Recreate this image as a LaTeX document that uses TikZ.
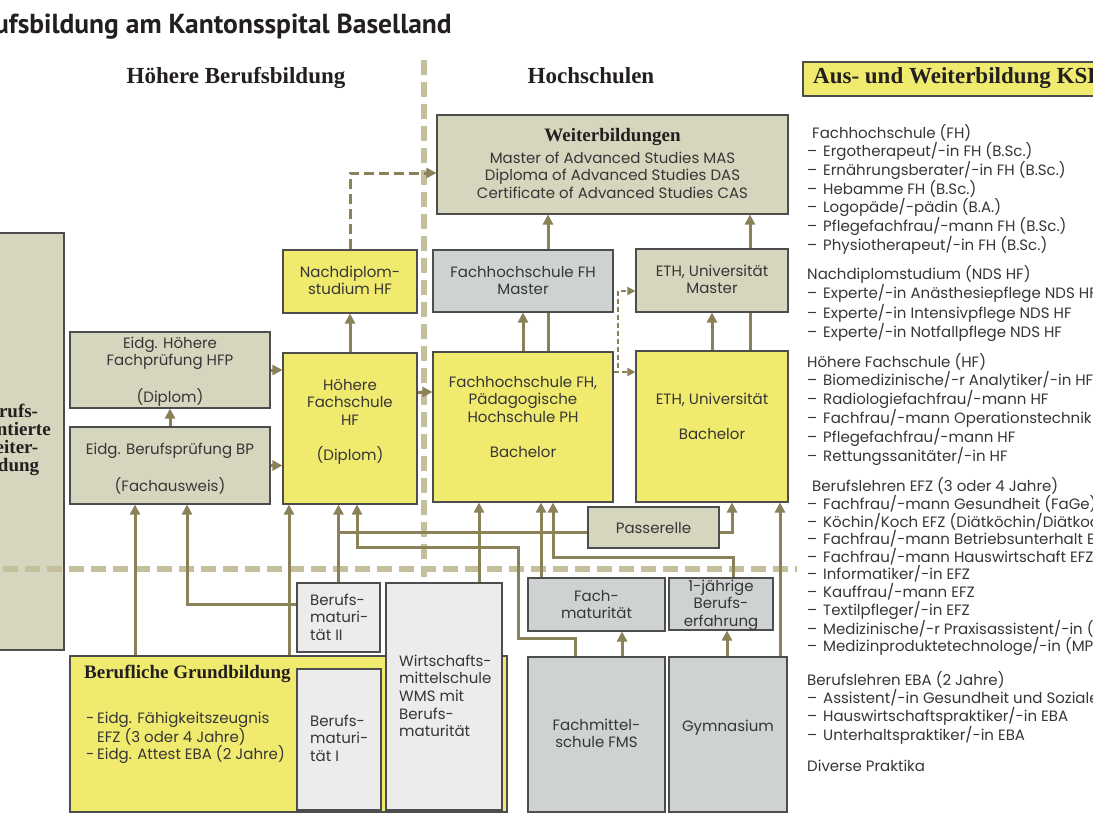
\documentclass[tikz,border=0pt]{standalone}
\usepackage{fontspec}
\setmainfont{Poppins}
\newfontfamily\serifhd{Liberation Serif}
\newfontfamily\titlefont{PT Sans}
\usetikzlibrary{arrows.meta,fit}
\definecolor{khaki}{HTML}{D6D5BD}
\definecolor{yel}{HTML}{F0EB6E}
\definecolor{grayb}{HTML}{CFD2D2}
\definecolor{lgray}{HTML}{EBECEB}
\definecolor{olive}{HTML}{8B8159}
\definecolor{sepc}{HTML}{C5C09C}
\definecolor{edgec}{HTML}{4D4D4D}
\definecolor{txtc}{HTML}{363636}
\definecolor{hdc}{HTML}{231F20}
\pgfdeclarelayer{back}\pgfdeclarelayer{conn}
\pgfsetlayers{back,conn,main}
\tikzset{
 box/.style={draw=edgec, line width=1.1pt, inner sep=0pt},
 bt/.style={font=\fontsize{15}{17.6}\selectfont, text=txtc, inner sep=0pt, align=center, anchor=north, execute at begin node=\strut},
 btl/.style={bt, align=left, anchor=north west},
 bt1/.style={font=\fontsize{15}{17.6}\selectfont, text=txtc, inner sep=0pt, anchor=base},
 hd/.style={font=\serifhd\bfseries\fontsize{23}{27}\selectfont, text=hdc, inner sep=0pt, anchor=base},
 hdsm/.style={font=\serifhd\bfseries\fontsize{19}{18}\selectfont, text=hdc, inner sep=0pt},
 conn/.style={draw=olive, line width=3pt, -{Triangle[length=10pt,width=10pt]}},
 plain/.style={draw=olive, line width=3pt},
 dconn/.style={conn, dash pattern=on 10pt off 5pt},
 sconn/.style={draw=olive, line width=2pt, dash pattern=on 5pt off 3pt, -{Triangle[length=8pt,width=8pt]}},
 sepline/.style={draw=sepc, line width=6.5pt, dash pattern=on 15pt off 7pt},
}
\newcommand\di{\makebox[16pt][l]{–}}
\begin{document}
\begin{tikzpicture}[x=1pt,y=-1pt]
\useasboundingbox (0,0) rectangle (1093,820);
\begin{pgfonlayer}{back}
\fill[white] (0,0) rectangle (1093,820);
\node[box, fill=khaki, fit={(-60,233) (64,650)}] (bow) {};
\node[hdsm, anchor=north, align=center, execute at begin node=\strut] (bowt) at (8,404.4) {Berufs-\\orientierte\\Weiter-\\bildung};
\draw[sepline] (424,60) -- (424,577);
\draw[sepline] (3,569) -- (797,569);
\end{pgfonlayer}

% title and headings
\node[font=\titlefont\bfseries\fontsize{27.5}{30}\selectfont, text=hdc, inner sep=0pt, anchor=base east] (title) at (452,33) {Berufsbildung am Kantonsspital Baselland};
\node[hd] (h1) at (236,83) {Höhere Berufsbildung};
\node[hd] (h2) at (591,83) {Hochschulen};
\node[box, fill=yel, fit={(803,62) (1110,96)}] (ksbl) {};
\node[hd, anchor=base west] (ksblt) at (813,83) {Aus- und Weiterbildung KSBL};

% upper boxes
\node[box, fill=khaki, fit={(437,115) (788,214)}] (wb) {};
\node[hdsm, anchor=base] (wbh) at (612.5,141.7) {Weiterbildungen};
\node[bt] (wbt) at (612.5,151.7) {Master of Advanced Studies MAS\\Diploma of Advanced Studies DAS\\Certificate of Advanced Studies CAS};

\node[box, fill=grayb, fit={(433,250) (613,312)}] (fhm) {};
\node[bt] (fhmt) at (523,265.7) {Fachhochschule FH\\Master};
\node[box, fill=khaki, fit={(636,249) (788,312)}] (ethm) {};
\node[bt] (ethmt) at (712,264.7) {ETH, Universität\\Master};
\node[box, fill=yel, fit={(283,250) (417,313)}] (nd) {};
\node[bt] (ndt) at (350,265.7) {Nachdiplom-\\studium HF};

\node[box, fill=khaki, fit={(70,332) (270,408)}] (hfp) {};
\node[bt] (hfpt) at (170,336.7) {Eidg. Höhere\\Fachprüfung HFP\\[17.6pt](Diplom)};
\node[box, fill=khaki, fit={(70,427) (270,504)}] (bp) {};
\node[bt] (bpt) at (170,442.7) {Eidg. Berufsprüfung BP\\[17.6pt](Fachausweis)};
\node[box, fill=yel, fit={(283,353) (417,504)}] (hf) {};
\node[bt] (hft) at (350,378.7) {Höhere\\Fachschule\\HF\\[17.6pt](Diplom)};
\node[box, fill=yel, fit={(433,352) (613,502)}] (fhb) {};
\node[bt] (fhbt) at (523,375.7) {Fachhochschule FH,\\Pädagogische\\Hochschule PH\\[17.6pt]Bachelor};
\node[box, fill=yel, fit={(636,351) (788,502)}] (ethb) {};
\node[bt] (ethbt) at (712,392.7) {ETH, Universität\\[17.6pt]Bachelor};
\node[box, fill=khaki, fit={(588,507) (719,548)}] (pas) {};
\node[bt1] (past) at (653.5,533) {Passerelle};

% lower boxes
\node[box, fill=lgray, fit={(297,583) (380,652)}] (bm2) {};
\node[btl] (bm2t) at (310,593.7) {Berufs-\\maturi-\\tät II};
\node[box, fill=yel, fit={(70,656) (507,812)}] (grund) {};
\node[hdsm, anchor=base west] (grundh) at (84,678) {Berufliche Grundbildung};
\node[btl] (grundt) at (86,711.7) {\makebox[11pt][l]{-}Eidg. Fähigkeitszeugnis\\\hspace*{11pt}EFZ (3 oder 4 Jahre)\\\makebox[11pt][l]{-}Eidg. Attest EBA (2 Jahre)};
\node[box, fill=lgray, fit={(297,669) (381,810)}] (bm1) {};
\node[btl] (bm1t) at (310,714.7) {Berufs-\\maturi-\\tät I};
\node[box, fill=lgray, fit={(386,583) (502,810)}] (wms) {};
\node[btl] (wmst) at (399,654.7) {Wirtschafts-\\mittelschule\\WMS mit\\Berufs-\\maturität};
\node[box, fill=grayb, fit={(528,578) (665,631)}] (fmat) {};
\node[bt] (fmatt) at (596.5,589.7) {Fach-\\maturität};
\node[box, fill=grayb, fit={(669,578) (773,630)}] (erf) {};
\node[bt] (erft) at (721,579.7) {1-jährige\\Berufs-\\erfahrung};
\node[box, fill=grayb, fit={(528,657) (665,812)}] (fms) {};
\node[bt] (fmst) at (596.5,718.7) {Fachmittel-\\schule FMS};
\node[box, fill=grayb, fit={(669,657) (787,812)}] (gym) {};
\node[bt1] (gymt) at (728,731) {Gymnasium};

% right list
\node[btl] (s1) at (807,124.7) {\hspace*{5pt}Fachhochschule (FH)\\\di Ergotherapeut/-in FH (B.Sc.)\\\di Ernährungsberater/-in FH (B.Sc.)\\\di Hebamme FH (B.Sc.)\\\di Logopäde/-pädin (B.A.)\\\di Pflegefachfrau/-mann FH (B.Sc.)\\\di Physiotherapeut/-in FH (B.Sc.)};
\node[btl] (s2) at (807,265.7) {Nachdiplomstudium (NDS HF)\\\di Experte/-in Anästhesiepflege NDS HF\\\di Experte/-in Intensivpflege NDS HF\\\di Experte/-in Notfallpflege NDS HF};
\node[btl] (s3) at (807,353.7) {Höhere Fachschule (HF)\\\di Biomedizinische/-r Analytiker/-in HF\\\di Radiologiefachfrau/-mann HF\\\di Fachfrau/-mann Operationstechnik HF\\\di Pflegefachfrau/-mann HF\\\di Rettungssanitäter/-in HF};
\node[btl] (s4) at (807,477.7) {\hspace*{5pt}Berufslehren EFZ (3 oder 4 Jahre)\\\di Fachfrau/-mann Gesundheit (FaGe)\\\di Köchin/Koch EFZ (Diätköchin/Diätkoch)\\\di Fachfrau/-mann Betriebsunterhalt EFZ\\\di Fachfrau/-mann Hauswirtschaft EFZ\\\di Informatiker/-in EFZ\\\di Kauffrau/-mann EFZ\\\di Textilpfleger/-in EFZ\\\di Medizinische/-r Praxisassistent/-in (MPA)\\\di Medizinproduktetechnologe/-in (MPT)};
\node[btl] (s5) at (807,671.7) {Berufslehren EBA (2 Jahre)\\\di Assistent/-in Gesundheit und Soziales EBA\\\di Hauswirtschaftspraktiker/-in EBA\\\di Unterhaltspraktiker/-in EBA};
\node[bt1, anchor=base west] (s6) at (807,771) {Diverse Praktika};

% connectors
\begin{pgfonlayer}{conn}
\draw[dconn] (nd.north) |- (wb.west |- 0,173);
\draw[conn] (hf.north) -- (nd.south);
\draw[conn] (hfp.east) -- (hfp.east -| hf.west);
\draw[conn] (bp.east) -- (bp.east -| hf.west);
\draw[conn] (bp.north) -- (hfp.south);
\draw[conn] (hf.east |- 0,392) -- (fhb.west |- 0,392);
\draw[conn] (fhb.north -| 523,0) -- (fhm.south -| 523,0);
\draw[conn] (fhb.north -| 548,0) -- (wb.south -| 548,0);
\draw[conn] (ethb.north -| 712,0) -- (ethm.south -| 712,0);
\draw[conn] (ethb.north -| 750,0) -- (wb.south -| 750,0);
\draw[sconn] (fhb.east |- 0,372) -- (ethb.west |- 0,372);
\draw[sconn] (fhb.east |- 0,372) -- (618,372) |- (ethm.west |- 0,291);
\draw[conn] (bm2.north) -- (bm2.north |- hf.south);
\draw[plain] (bm2.north |- 0,532) -- (pas.west |- 0,532);
\draw[conn] (pas.east |- 0,532) -| (ethb.south -| 732,0);
\draw[conn] (bm2.west |- 0,604) -| (bp.south -| 187,0);
\draw[conn] (fms.north -| 575,0) |- (518,638) |- (357,547) -- (hf.south -| 357,0);
\draw[conn] (fms.north -| 622,0) -- (fmat.south -| 622,0);
\draw[conn] (fmat.north -| 541,0) -- (fhb.south -| 541,0);
\draw[conn] (erf.north -| 733,0) |- (553,557) -- (fhb.south -| 553,0);
\draw[conn] (gym.north -| 727,0) -- (erf.south -| 727,0);
\draw[conn] (gym.north -| 780,0) -- (ethb.south -| 780,0);
\draw[conn] (wms.north -| 479,0) -- (fhb.south -| 479,0);
\draw[conn] (grund.north -| 135,0) -- (bp.south -| 135,0);
\draw[conn] (grund.north -| 289,0) -- (hf.south -| 289,0);
\end{pgfonlayer}
\end{tikzpicture}
\end{document}
